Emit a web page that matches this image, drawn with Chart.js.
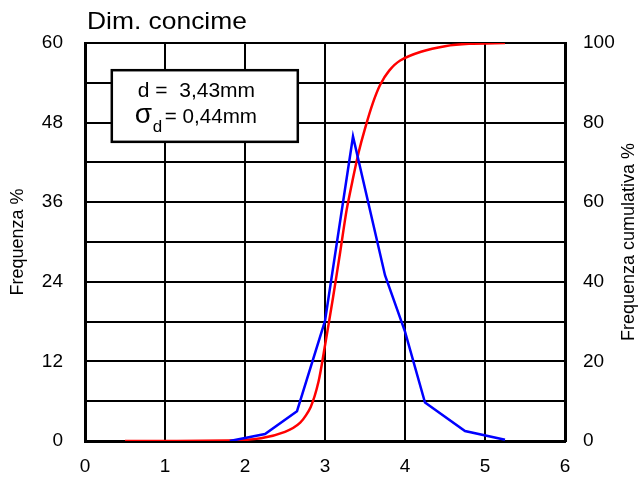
<!DOCTYPE html>
<html>
<head>
<meta charset="utf-8">
<script src="https://cdn.jsdelivr.net/npm/chart.js@4.4.0/dist/chart.umd.min.js"></script>
<style>
  html, body { margin: 0; padding: 0; background: #fff; }
  #wrap { width: 638px; height: 477px; }
</style>
</head>
<body>
<div id="wrap"><canvas id="chart" width="638" height="477"></canvas></div>
<script>
// frequency (blue), x = size mm, y = Frequenza %
const freqX = [1.81, 2.25, 2.65, 3.0, 3.35, 3.75, 4.0, 4.25, 4.75, 5.25];
const freqY = [0, 1.05, 4.5, 18.1, 45.9, 25, 16.5, 5.8, 1.5, 0.2];

// cumulative (red), right axis 0-100
const cumX = [0.5, 1.8, 2.2, 2.5, 2.69, 2.82, 2.92, 3.0, 3.1, 3.19, 3.27, 3.35, 3.42, 3.5, 3.6, 3.69, 3.8, 3.94, 4.2, 4.5, 4.8, 5.25];
const cumY = [0, 0.1, 0.7, 2.3, 4.6, 8.5, 15, 24, 36, 47.5, 58, 66, 72.5, 78.5, 85, 89.5, 93, 95.6, 97.8, 99.2, 99.8, 100];

const leftTicks = [0, 12, 24, 36, 48, 60];
const rightTicks = [0, 20, 40, 60, 80, 100];

const chartTitle = 'Dim. concime';
const rightTitle = 'Frequenza cumulativa %';
const meanText = 'd =  3,43mm';
const sigmaText = '= 0,44mm';

const FONT = 'Arial, "Liberation Sans", sans-serif';

const toPts = (xs, ys) => xs.map((x, i) => ({ x: x, y: ys[i] }));

// the source picture has its horizontal text a little wider than plain Arial
function wideText(ctx, txt, x, y, sx) {
  ctx.save();
  ctx.translate(x, y);
  ctx.scale(sx, 1);
  ctx.fillText(txt, 0, 0);
  ctx.restore();
}

const extras = {
  id: 'extras',
  afterDraw(chart) {
    const ctx = chart.ctx;
    const ys = chart.scales.y;
    ctx.save();
    ctx.fillStyle = '#000';
    ctx.font = '24px ' + FONT;
    ctx.textBaseline = 'alphabetic';
    wideText(ctx, chartTitle, 87, 29, 1.1);
    // right axis title reads bottom to top
    ctx.translate(629, (ys.top + ys.bottom) / 2);
    ctx.rotate(-Math.PI / 2);
    ctx.font = '18px ' + FONT;
    ctx.textAlign = 'center';
    ctx.textBaseline = 'middle';
    ctx.fillText(rightTitle, 0, 0);
    ctx.restore();
  },
  beforeDatasetsDraw(chart) {
    const ctx = chart.ctx;
    const xs = chart.scales.x, ys = chart.scales.y;
    const l = xs.getPixelForValue(0.335), r = xs.getPixelForValue(2.66);
    const t = ys.getPixelForValue(55.9), b = ys.getPixelForValue(45.1);
    ctx.save();
    ctx.fillStyle = '#fff';
    ctx.fillRect(l, t, r - l, b - t);
    ctx.strokeStyle = '#000';
    ctx.lineWidth = 2.5;
    ctx.strokeRect(l, t, r - l, b - t);
    ctx.fillStyle = '#000';
    ctx.textBaseline = 'alphabetic';
    ctx.font = '20px ' + FONT;
    wideText(ctx, meanText, l + 26, t + 27, 1.05);
    ctx.font = '28px ' + FONT;
    ctx.fillText('\u03C3', l + 23, t + 53);
    ctx.font = '17px ' + FONT;
    ctx.fillText('d', l + 41, t + 62);
    ctx.font = '20px ' + FONT;
    wideText(ctx, sigmaText, l + 53, t + 53, 1.03);
    ctx.restore();
  }
};

new Chart(document.getElementById('chart'), {
  type: 'line',
  data: {
    datasets: [
      {
        label: 'Frequenza',
        data: toPts(freqX, freqY),
        borderColor: '#0000ff',
        borderWidth: 2.5,
        pointRadius: 0,
        tension: 0,
        yAxisID: 'y'
      },
      {
        label: 'Frequenza cumulativa',
        data: toPts(cumX, cumY),
        borderColor: '#ff0000',
        borderWidth: 2.5,
        pointRadius: 0,
        tension: 0.25,
        yAxisID: 'y1'
      }
    ]
  },
  options: {
    responsive: false,
    animation: false,
    devicePixelRatio: 1,
    layout: { padding: { top: 43, left: 0, right: 0, bottom: 0 } },
    plugins: { legend: { display: false }, tooltip: { enabled: false } },
    scales: {
      x: {
        type: 'linear',
        min: 0, max: 6,
        ticks: { stepSize: 1, color: '#000', font: { size: 19, family: FONT }, padding: 14 },
        grid: { color: '#000', lineWidth: 2, drawTicks: false },
        border: { color: '#000', width: 3 },
        afterFit(s) { s.height = 36; }
      },
      y: {
        position: 'left',
        min: 0, max: 60,
        ticks: {
          stepSize: 6, color: '#000', font: { size: 19, family: FONT }, padding: 22,
          callback: v => leftTicks.includes(v) ? String(v) : ''
        },
        grid: { color: '#000', lineWidth: 2, drawTicks: false },
        border: { color: '#000', width: 3 },
        title: { display: true, text: 'Frequenza %', color: '#000', font: { size: 18, family: FONT }, padding: { top: 7, bottom: 0 } },
        afterFit(s) { s.width = 85; }
      },
      y1: {
        position: 'right',
        min: 0, max: 100,
        ticks: {
          stepSize: 10, color: '#000', font: { size: 19, family: FONT }, padding: 18,
          callback: v => rightTicks.includes(v) ? String(v) : ''
        },
        grid: { display: false, drawTicks: false },
        border: { color: '#000', width: 3 },
        afterFit(s) { s.width = 73; }
      }
    }
  },
  plugins: [extras]
});
</script>
</body>
</html>
